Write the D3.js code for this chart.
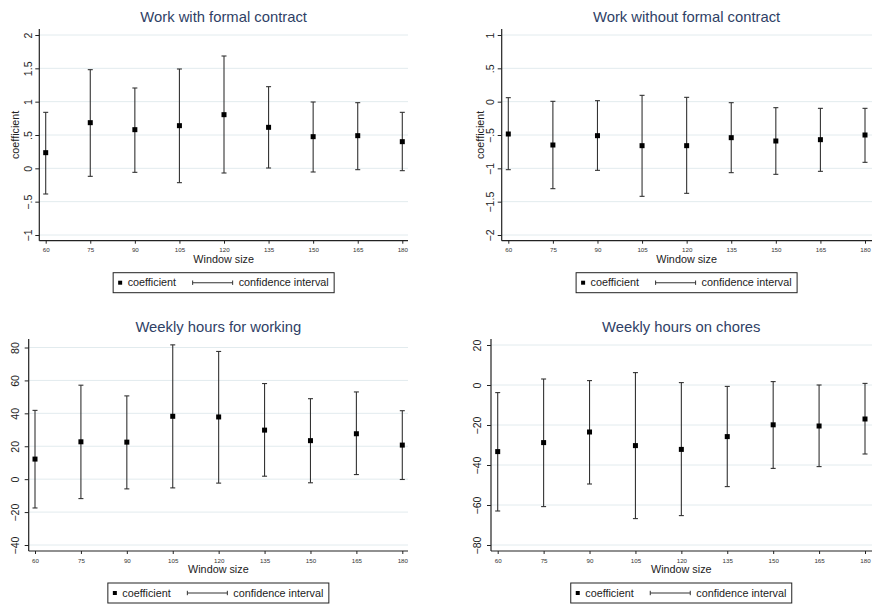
<!DOCTYPE html>
<html><head><meta charset="utf-8">
<script src="https://cdn.jsdelivr.net/npm/d3@7"></script>
<style>body{margin:0;background:#fff}svg{display:block;font-family:"Liberation Sans",Arial,sans-serif}</style>
</head><body><svg id="c" width="872" height="605"></svg>
<script>
const windowSizes=[60,75,90,105,120,135,150,165,180];

const formalCoef=[0.235,0.685,0.58,0.64,0.805,0.615,0.475,0.49,0.40];
const formalLo=[-0.385,-0.12,-0.06,-0.215,-0.07,0.005,-0.055,-0.02,-0.035];
const formalHi=[0.84,1.48,1.205,1.49,1.685,1.225,0.995,0.985,0.84];

const informalCoef=[-0.485,-0.65,-0.51,-0.66,-0.66,-0.54,-0.59,-0.57,-0.50];
const informalLo=[-1.02,-1.305,-1.03,-1.42,-1.375,-1.065,-1.09,-1.045,-0.91];
const informalHi=[0.06,0.005,0.015,0.095,0.065,-0.015,-0.09,-0.10,-0.10];

const workCoef=[12.2,22.7,22.5,38.2,37.8,29.8,23.4,27.6,20.7];
const workLo=[-17.5,-11.8,-5.9,-5.3,-2.4,1.8,-2.2,2.8,-0.2];
const workHi=[41.8,57.1,50.6,81.6,77.6,58.1,48.9,53.0,41.6];

const choresCoef=[-33.3,-28.8,-23.5,-30.3,-32.2,-25.8,-19.9,-20.5,-17.0];
const choresLo=[-63,-60.8,-49.5,-66.8,-65.3,-50.8,-41.7,-40.8,-34.5];
const choresHi=[-3.8,3.0,2.2,6.2,1.2,-0.7,1.7,0.0,0.8];

const formalTicks=[-1,-0.5,0,0.5,1,1.5,2];
const informalTicks=[-2,-1.5,-1,-0.5,0,0.5,1];
const workTicks=[-40,-20,0,20,40,60,80];
const choresTicks=[-80,-60,-40,-20,0,20];

const titles=["Work with formal contract","Work without formal contract","Weekly hours for working","Weekly hours on chores"];
const legendLabels=["coefficient","confidence interval"];
const xTitle="Window size";
const yTitle="coefficient";

function fmt(v){
  if(v===0) return "0";
  let s=Math.abs(v).toString();
  if(s.startsWith("0.")) s=s.slice(1);
  return (v<0?"\u2212":"")+s;
}

const panels=[
 {title:titles[0],coef:formalCoef,lo:formalLo,hi:formalHi,ticks:formalTicks,domain:[-1,2],yr:[235,35],top:29,bottom:240.7,ax:39.3,right:408,x0:45.7,x1:402.3,labX:28,yt:15.5},
 {title:titles[1],coef:informalCoef,lo:informalLo,hi:informalHi,ticks:informalTicks,domain:[-2,1],yr:[235,35],top:29,bottom:240.7,ax:501.7,right:872,x0:508.3,x1:865,labX:490,yt:480},
 {title:titles[2],coef:workCoef,lo:workLo,hi:workHi,ticks:workTicks,domain:[-40,80],yr:[545,347.5],top:339,bottom:551,ax:28.7,right:408,x0:35,x1:402.3,labX:15,yt:null},
 {title:titles[3],coef:choresCoef,lo:choresLo,hi:choresHi,ticks:choresTicks,domain:[-80,20],yr:[545,345],top:339,bottom:551,ax:491,right:872,x0:497.7,x1:865,labX:477.7,yt:null}
];

const svg=d3.select("#c");
const ink="#222";
const gridC="#e2ebee";
const titleC="#2f3f66";

panels.forEach(p=>{
  const g=svg.append("g");
  const x=d3.scaleLinear().domain([60,180]).range([p.x0,p.x1]);
  const y=d3.scaleLinear().domain(p.domain).range(p.yr);
  const cx=(p.ax+Math.min(p.right,871.5))/2;

  g.append("g").selectAll("line").data(p.ticks).join("line")
    .attr("x1",p.ax).attr("x2",p.right)
    .attr("y1",d=>y(d)).attr("y2",d=>y(d))
    .attr("stroke",gridC).attr("stroke-width",1);

  const ya=g.append("g").attr("transform",`translate(${p.ax},0)`)
    .call(d3.axisLeft(y).tickValues(p.ticks).tickSize(4).tickSizeOuter(0).tickFormat(fmt));
  ya.select(".domain").remove();
  ya.selectAll(".tick line").attr("stroke",ink);
  ya.selectAll(".tick text")
    .attr("transform","rotate(-90)")
    .attr("x",0).attr("y",-(p.ax-p.labX)).attr("dy","0.35em")
    .attr("text-anchor","middle")
    .attr("font-size",10.6).attr("fill","#222").attr("font-family","Liberation Sans, Arial, sans-serif");
  g.append("line").attr("x1",p.ax).attr("x2",p.ax).attr("y1",p.top).attr("y2",p.bottom)
    .attr("stroke",ink).attr("stroke-width",1.2);

  const xa=g.append("g").attr("transform",`translate(0,${p.bottom})`)
    .call(d3.axisBottom(x).tickValues(windowSizes).tickSize(3).tickSizeOuter(0));
  xa.select(".domain").remove();
  xa.selectAll(".tick line").attr("stroke",ink);
  xa.selectAll(".tick text").attr("y",9.5).attr("dy","0.35em")
    .attr("font-size",6.2).attr("fill","#333").attr("font-family","Liberation Sans, Arial, sans-serif");
  g.append("line").attr("x1",p.ax).attr("x2",p.right).attr("y1",p.bottom).attr("y2",p.bottom)
    .attr("stroke",ink).attr("stroke-width",1.2);

  g.append("text").attr("x",cx).attr("y",p.top-12.3).attr("dy","0.35em").attr("text-anchor","middle")
    .attr("font-size",14.8).attr("fill",titleC).text(p.title);
  g.append("text").attr("x",cx).attr("y",p.bottom+18.5).attr("dy","0.35em").attr("text-anchor","middle")
    .attr("font-size",10.8).attr("fill","#222").text(xTitle);
  if(p.yt!==null){
    const my=(p.top+p.bottom)/2;
    g.append("text").attr("transform",`translate(${p.yt},${my}) rotate(-90)`)
      .attr("dy","0.35em").attr("text-anchor","middle")
      .attr("font-size",10.8).attr("fill","#222").text(yTitle);
  }

  const eb=g.append("g").attr("stroke","#333").attr("stroke-width",1.1);
  windowSizes.forEach((w,i)=>{
    const xx=x(w);
    eb.append("line").attr("x1",xx).attr("x2",xx).attr("y1",y(p.lo[i])).attr("y2",y(p.hi[i]));
    eb.append("line").attr("x1",xx-2.5).attr("x2",xx+2.5).attr("y1",y(p.lo[i])).attr("y2",y(p.lo[i]));
    eb.append("line").attr("x1",xx-2.5).attr("x2",xx+2.5).attr("y1",y(p.hi[i])).attr("y2",y(p.hi[i]));
  });
  g.append("g").selectAll("rect").data(windowSizes).join("rect")
    .attr("x",d=>x(d)-2.5).attr("y",(d,i)=>y(p.coef[i])-2.5)
    .attr("width",5).attr("height",5).attr("fill","#000");

  const lx=cx-110.5, ly=p.bottom+32;
  const lg=g.append("g").attr("transform",`translate(${lx},${ly})`);
  lg.append("rect").attr("x",0).attr("y",0).attr("width",221).attr("height",20)
    .attr("fill","#fff").attr("stroke",ink).attr("stroke-width",1);
  lg.append("rect").attr("x",5).attr("y",8).attr("width",4).attr("height",4).attr("fill","#000");
  lg.append("text").attr("x",14.5).attr("y",10).attr("dy","0.35em").attr("font-size",10.8).attr("fill","#222").text(legendLabels[0]);
  lg.append("line").attr("x1",79.5).attr("x2",119.5).attr("y1",10).attr("y2",10).attr("stroke","#333").attr("stroke-width",1.1);
  lg.append("line").attr("x1",79.5).attr("x2",79.5).attr("y1",7.8).attr("y2",12.2).attr("stroke","#333");
  lg.append("line").attr("x1",119.5).attr("x2",119.5).attr("y1",7.8).attr("y2",12.2).attr("stroke","#333");
  lg.append("text").attr("x",125.5).attr("y",10).attr("dy","0.35em").attr("font-size",10.8).attr("fill","#222").text(legendLabels[1]);
});
</script></body></html>
